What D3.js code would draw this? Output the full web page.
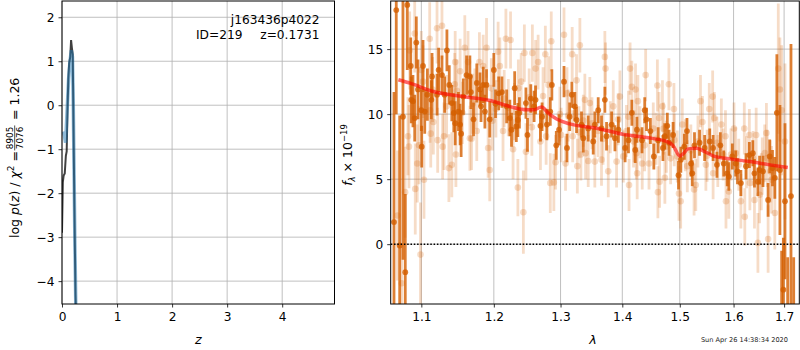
<!DOCTYPE html>
<html>
<head>
<meta charset="utf-8">
<script src="https://cdn.jsdelivr.net/npm/d3@7"></script>
<style>
  body { margin: 0; background: #fff; }
  text { font-family: "DejaVu Sans", sans-serif; }
</style>
</head>
<body>
<svg id="chart" width="800" height="350"></svg>
<script>
// ---- left panel: log p(z) curves
const zTicks = [0, 1, 2, 3, 4];
const pTicks = [-4, -3, -2, -1, 0, 1, 2];
const zChi = [0.0, 0.015, 0.03, 0.05, 0.07, 0.085, 0.1, 0.115, 0.13, 0.15, 0.165, 0.18, 0.195, 0.21, 0.225, 0.245, 0.26];
const logpChi = [-2.9, -1.75, -1.6, -1.55, -1.15, -1.05, -0.1, 0.6, 0.95, 1.1, 1.48, 1.3, 1.15, -0.6, -2.3, -4.3, -5.0];
const zPdf = [0.02, 0.045, 0.065, 0.09, 0.12, 0.145, 0.17, 0.19, 0.205, 0.22, 0.235, 0.25, 0.26];
const logpPdf = [-0.6, -0.7, -0.85, -0.2, 0.6, 1.0, 1.25, 1.1, 0.0, -1.6, -3.2, -4.5, -5.0];

// ---- right panel: 1D spectrum
const lamTicks = [1.1, 1.2, 1.3, 1.4, 1.5, 1.6, 1.7];
const fluxTicks = [0, 5, 10, 15];

// strong points (wave, flux, err)
const wavePt = [1.0645, 1.0674, 1.0718, 1.0760, 1.0790, 1.0816, 1.0861, 1.0868, 1.0890, 1.0913,
  1.0934, 1.0956, 1.1000, 1.1005, 1.1022, 1.1045, 1.1080, 1.1133, 1.1142, 1.1209,
  1.1231, 1.1276, 1.1312, 1.1343, 1.1375, 1.1410, 1.1437, 1.1456, 1.1501, 1.1524,
  1.1538, 1.1569, 1.1614, 1.1660, 1.1674, 1.1711, 1.1757, 1.1803, 1.1817, 1.1848,
  1.1872, 1.1895, 1.1941, 1.2000, 1.2024, 1.2070, 1.2117, 1.2186, 1.2233, 1.2257,
  1.2304, 1.2328, 1.2351, 1.2374, 1.2471, 1.2494, 1.2544, 1.2594, 1.2616, 1.2690,
  1.2715, 1.2789, 1.2841, 1.2865, 1.2934, 1.2977, 1.3054, 1.3101, 1.3143, 1.3178,
  1.3225, 1.3252, 1.3331, 1.3359, 1.3439, 1.3520, 1.3546, 1.3601, 1.3655, 1.3710,
  1.3738, 1.3822, 1.3877, 1.3934, 1.4047, 1.4104, 1.4161, 1.4219, 1.4248, 1.4335,
  1.4382, 1.4413, 1.4480, 1.4540, 1.4616, 1.4700, 1.4732, 1.4777, 1.4808, 1.4880,
  1.4977, 1.5019, 1.5082, 1.5130, 1.5204, 1.5226, 1.5267, 1.5360, 1.5454, 1.5549,
  1.5612, 1.5684, 1.5748, 1.5812, 1.5878, 1.5909, 1.5976, 1.6041, 1.6075, 1.6141,
  1.6240, 1.6306, 1.6374, 1.6406, 1.6474, 1.6507, 1.6575, 1.6677, 1.6709, 1.6765,
  1.6812, 1.6853, 1.6915, 1.6950, 1.6985, 1.7018, 1.7073, 1.7141, 1.7197];
const fluxPt = [1.7, 18.0, -0.1, 9.8, -2.15, 18.4, 13.7, 11.1, 11.0, 9.7,
  15.5, 11.9, 10.3, 7.5, 13.7, 10.2, 11.5, 11.1, 12.9, 11.5,
  13.4, 13.0, 11.5, 14.9, 12.25, 10.85, 10.1, 9.3, 10.2, 9.2,
  8.5, 11.35, 13.0, 12.9, 11.7, 9.6, 12.4, 11.9, 10.6, 12.25,
  10.2, 12.25, 9.6, 13.4, 10.8, 11.6, 11.7, 10.6, 9.7, 8.8,
  12.0, 9.05, 9.55, 10.1, 10.85, 8.4, 11.2, 10.6, 11.1, 9.1,
  9.8, 9.2, 10.2, 12.25, 7.6, 8.8, 12.5, 7.4, 9.8, 11.5,
  10.6, 9.55, 9.2, 8.15, 8.9, 7.9, 9.2, 10.3, 8.9, 11.1,
  8.3, 9.2, 8.15, 8.8, 7.4, 8.0, 10.1, 7.25, 8.8, 8.0,
  10.3, 9.6, 8.7, 6.75, 8.0, 7.4, 8.3, 9.1, 7.8, 8.4,
  5.3, 6.5, 7.5, 8.7, 6.2, 5.45, 7.6, 7.8, 7.4, 7.9,
  7.4, 6.1, 7.6, 6.2, 5.45, 5.2, 6.75, 6.2, 5.6, 4.7,
  6.0, 6.85, 7.0, 5.45, 4.8, 5.7, 5.6, 3.4, 6.75, 5.85,
  5.1, 10.1, 5.7, -5.0, -3.5, 3.3, -6.0, 3.7, -5.5];
const errPt = [10, 8, 10, 11, 6, 5, 2.2, 1.8, 2.0, 1.8,
  2.0, 2.3, 1.6, 1.6, 2.0, 1.7, 2.0, 1.5, 1.8, 1.6,
  1.7, 1.5, 1.4, 1.6, 1.5, 1.4, 1.5, 1.7, 1.5, 1.6,
  1.8, 1.4, 1.5, 1.6, 1.3, 1.3, 1.5, 1.3, 1.2, 1.4,
  1.3, 1.2, 1.4, 1.3, 1.1, 1.3, 1.2, 1.3, 1.4, 1.3,
  1.3, 1.2, 1.3, 1.2, 1.2, 1.3, 1.1, 1.2, 1.1, 1.2,
  1.1, 1.2, 1.1, 1.2, 1.1, 1.2, 1.2, 1.1, 1.1, 1.0,
  1.1, 1.0, 1.0, 1.1, 1.0, 1.0, 1.0, 1.0, 1.0, 1.0,
  1.1, 1.0, 1.0, 1.0, 1.1, 1.0, 1.0, 1.0, 1.0, 1.0,
  1.0, 0.9, 1.0, 1.0, 1.0, 1.0, 1.0, 1.0, 1.0, 1.0,
  1.1, 1.0, 1.0, 1.0, 1.0, 1.0, 1.0, 1.0, 1.0, 1.0,
  1.0, 1.0, 1.0, 1.0, 1.0, 1.1, 1.0, 1.0, 1.0, 1.0,
  1.0, 1.0, 1.0, 1.1, 1.1, 1.1, 1.2, 1.3, 1.3, 1.4,
  1.6, 4.5, 5, 4.5, 4, 6, 5, 11.7, 4.5];

// faint points (wave, flux, err)
const waveBg = [1.0690, 1.0744, 1.0788, 1.0825, 1.0838, 1.0847, 1.0913, 1.0920, 1.0946, 1.0969,
  1.0989, 1.1000, 1.1022, 1.1035, 1.1111, 1.1116, 1.1125, 1.1160, 1.1209, 1.1218,
  1.1276, 1.1285, 1.1303, 1.1339, 1.1370, 1.1410, 1.1456, 1.1466, 1.1480, 1.1524,
  1.1555, 1.1589, 1.1634, 1.1660, 1.1683, 1.1730, 1.1757, 1.1794, 1.1848, 1.1895,
  1.1918, 1.1941, 1.1964, 1.2030, 1.2062, 1.2087, 1.2133, 1.2175, 1.2210, 1.2243,
  1.2280, 1.2351, 1.2358, 1.2400, 1.2433, 1.2448, 1.2471, 1.2520, 1.2568, 1.2617,
  1.2655, 1.2690, 1.2765, 1.2777, 1.2814, 1.2841, 1.2856, 1.2896, 1.2922, 1.2990,
  1.3054, 1.3078, 1.3101, 1.3183, 1.3191, 1.3252, 1.3265, 1.3305, 1.3321, 1.3360,
  1.3385, 1.3397, 1.3439, 1.3465, 1.3546, 1.3600, 1.3655, 1.3710, 1.3721, 1.3766,
  1.3849, 1.3904, 1.3930, 1.3960, 1.4017, 1.4104, 1.4114, 1.4131, 1.4161, 1.4190,
  1.4224, 1.4238, 1.4252, 1.4264, 1.4300, 1.4339, 1.4398, 1.4456, 1.4530, 1.4602,
  1.4611, 1.4632, 1.4641, 1.4691, 1.4710, 1.4734, 1.4805, 1.4836, 1.4895, 1.4955,
  1.4985, 1.5016, 1.5045, 1.5136, 1.5200, 1.5259, 1.5291, 1.5377, 1.5413, 1.5477,
  1.5540, 1.5603, 1.5612, 1.5635, 1.5684, 1.5767, 1.5800, 1.5845, 1.5855, 1.5909,
  1.6008, 1.6041, 1.6141, 1.6207, 1.6217, 1.6250, 1.6306, 1.6316, 1.6406, 1.6440,
  1.6474, 1.6507, 1.6541, 1.6609, 1.6643, 1.6660, 1.6677, 1.6746, 1.6812, 1.6882,
  1.6915, 1.6950, 1.7018,
  1.1150, 1.1450, 1.1700, 1.1980, 1.2150, 1.2300, 1.2560, 1.2730, 1.3010, 1.3120,
  1.3290, 1.3500, 1.3680, 1.3800, 1.4070, 1.4200, 1.4380, 1.4580, 1.4760, 1.4900,
  1.5100, 1.5330, 1.5500, 1.5700, 1.5950, 1.6100, 1.6380, 1.6560, 1.6720];
const fluxBg = [2.2, -3.0, 4.0, 8.3, 7.5, 14.9, 16.2, 4.25, 6.2, 7.6,
  -0.8, 13.4, 12.5, 4.95, 15.8, 10.3, 8.5, 9.4, 16.6, 8.0,
  16.8, 7.5, 8.3, 10.6, 5.85, 6.1, 14.0, 6.9, 11.8, 13.3,
  10.1, 15.1, 14.0, 8.15, 8.1, 11.2, 8.7, 14.0, 13.7, 15.1,
  7.4, 5.7, 12.0, 10.4, 14.8, 13.7, 8.7, 15.8, 10.5, 15.7,
  7.3, 4.35, 12.0, 12.5, 2.46, 14.7, 7.1, 11.3, 14.7, 13.5,
  14.0, 7.9, 14.6, 8.3, 12.25, 4.7, 15.6, 4.75, 6.3, 10.0,
  16.1, 6.2, 11.6, 14.6, 8.3, 12.6, 6.0, 15.3, 6.9, 9.5,
  11.1, 7.0, 6.4, 10.85, 6.35, 8.7, 6.5, 14.4, 13.5, 5.6,
  10.6, 6.35, 9.6, 11.35, 6.75, 9.8, 4.55, 13.5, 12.1, 7.9,
  11.9, 7.0, 5.45, 11.0, 8.6, 6.2, 13.0, 6.2, 8.9, 12.2,
  4.0, 9.7, 4.8, 10.6, 8.9, 5.1, 12.3, 6.6, 10.4, 6.75,
  3.9, 3.3, 9.2, 6.0, 7.2, 4.2, 4.55, 11.0, 9.4, 6.1,
  10.4, 11.35, 5.45, 9.7, 7.8, 9.2, 6.9, 8.3, 3.3, 4.05,
  8.9, 7.0, 3.3, 8.9, 2.1, 6.3, 8.4, 4.7, 3.4, 8.4,
  0.1, 3.8, 4.8, 7.0, 8.55, 6.6, 0.4, 4.95, 2.4, 13.5,
  11.9, 10.3, 7.9,
  11.9, 12.3, 10.8, 9.5, 11.2, 10.2, 9.0, 11.4, 8.4, 9.9,
  8.6, 9.3, 8.1, 9.0, 8.7, 8.3, 7.6, 8.1, 7.5, 8.0,
  7.6, 7.9, 6.8, 6.4, 6.9, 6.1, 6.6, 6.0, 5.6];
const errBg = [5, 3, 3.5, 3, 3.2, 3, 3, 3.5, 3, 3,
  4, 3, 2.8, 3, 2.8, 2.5, 2.6, 2.5, 2.7, 2.5,
  2.6, 2.5, 2.6, 2.4, 2.6, 2.5, 2.4, 2.5, 2.4, 2.5,
  2.4, 2.5, 2.4, 2.5, 2.4, 2.3, 2.3, 2.3, 2.4, 2.3,
  2.3, 2.4, 2.3, 2.2, 2.3, 2.2, 2.3, 2.3, 2.2, 2.2,
  2.3, 2.2, 2.2, 2.2, 3.2, 2.2, 2.2, 2.2, 2.2, 2.2,
  2.1, 2.2, 2.2, 2.2, 2.2, 2.3, 2.3, 2.2, 2.1, 2.1,
  2.1, 2.1, 2.0, 2.1, 2.0, 2.0, 2.1, 2.1, 2.0, 2.0,
  2.0, 2.0, 2.0, 2.0, 2.0, 2.0, 2.0, 2.0, 2.0, 2.0,
  2.0, 2.0, 2.0, 2.0, 2.0, 2.0, 2.0, 2.0, 2.0, 2.0,
  2.0, 2.0, 2.0, 2.0, 2.0, 2.0, 2.0, 2.0, 2.0, 2.0,
  2.0, 2.0, 2.0, 2.0, 2.0, 2.0, 2.0, 2.0, 2.0, 2.0,
  2.1, 2.1, 2.0, 2.0, 2.0, 2.0, 2.0, 2.0, 2.0, 2.0,
  2.0, 2.0, 2.0, 2.0, 2.0, 2.0, 2.0, 2.0, 2.1, 2.1,
  2.0, 2.0, 2.1, 2.0, 2.2, 2.0, 2.0, 2.1, 2.2, 2.1,
  2.3, 2.2, 2.2, 2.2, 2.3, 2.2, 2.6, 2.6, 2.8, 5,
  4, 5, 6,
  2.5, 2.4, 2.3, 2.3, 2.2, 2.2, 2.2, 2.2, 2.1, 2.0,
  2.0, 2.0, 2.0, 2.0, 2.0, 2.0, 2.0, 2.0, 2.0, 2.0,
  2.0, 2.0, 2.0, 2.0, 2.0, 2.0, 2.1, 2.2, 2.4];

// best-fit model
const modelWave = [1.0701, 1.0852, 1.1160, 1.1568, 1.2000, 1.2233, 1.2489, 1.2581, 1.2708, 1.2810,
  1.2940, 1.3145, 1.3572, 1.4006, 1.4413, 1.4763, 1.4880, 1.5001, 1.5060, 1.5150,
  1.5303, 1.5425, 1.5612, 1.5927, 1.6316, 1.6711, 1.7076];
const modelFlux = [12.64, 12.38, 11.74, 11.35, 10.97, 10.58, 10.33, 10.33, 10.54, 10.08,
  9.62, 9.25, 8.92, 8.46, 8.2, 7.9, 7.58, 6.79, 6.95, 7.33,
  7.38, 7.18, 6.79, 6.56, 6.35, 6.1, 5.89];

const svg = d3.select('#chart');
svg.append('rect').attr('width', 800).attr('height', 350).attr('fill', '#fff');

const gridColor = '#b0b0b0';
const fontSize = 12.2;

const styleAxis = (g) => {
  g.select('.domain').remove();
  g.attr('font-size', fontSize).attr('font-family', '"DejaVu Sans", sans-serif');
  g.selectAll('.tick line').attr('stroke', '#000').attr('stroke-width', 0.8);
  g.selectAll('.tick text').attr('fill', '#000');
};

//* LEFT PANEL
const L = { x0: 62, x1: 334.5, y0: 1, y1: 304 };
const zx = d3.scaleLinear().domain([0, 4.95]).range([L.x0, L.x1]);
const zy = d3.scaleLinear().domain([-4.52, 2.37]).range([L.y1, L.y0]);

svg.append('clipPath').attr('id', 'clipL').append('rect')
  .attr('x', L.x0).attr('y', L.y0).attr('width', L.x1 - L.x0).attr('height', L.y1 - L.y0);

const left = svg.append('g');
left.selectAll('.gx').data(zTicks).enter().append('line')
  .attr('x1', (d) => zx(d)).attr('x2', (d) => zx(d))
  .attr('y1', L.y0).attr('y2', L.y1)
  .attr('stroke', gridColor).attr('stroke-width', 0.8);
left.selectAll('.gy').data(pTicks).enter().append('line')
  .attr('x1', L.x0).attr('x2', L.x1)
  .attr('y1', (d) => zy(d)).attr('y2', (d) => zy(d))
  .attr('stroke', gridColor).attr('stroke-width', 0.8);

const curves = left.append('g').attr('clip-path', 'url(#clipL)');
curves.append('path')
  .datum(zChi.map((z, i) => [z, logpChi[i]]))
  .attr('d', d3.line().x((d) => zx(d[0])).y((d) => zy(d[1])))
  .attr('fill', 'none').attr('stroke', '#000').attr('stroke-opacity', 0.75).attr('stroke-width', 2);
curves.append('path')
  .datum(zPdf.map((z, i) => [z, logpPdf[i]]))
  .attr('d', d3.line().x((d) => zx(d[0])).y((d) => zy(d[1])))
  .attr('fill', 'none').attr('stroke', '#1f77b4').attr('stroke-opacity', 0.5).attr('stroke-width', 3.5);

left.append('g').attr('transform', `translate(0,${L.y1})`)
  .call(d3.axisBottom(zx).tickValues(zTicks).tickFormat(d3.format('d')).tickSize(3.5).tickPadding(4.5))
  .call(styleAxis);
left.append('g').attr('transform', `translate(${L.x0},0)`)
  .call(d3.axisLeft(zy).tickValues(pTicks).tickFormat(d3.format('d')).tickSize(3.5).tickPadding(4))
  .call(styleAxis);

left.append('rect')
  .attr('x', L.x0).attr('y', L.y0).attr('width', L.x1 - L.x0).attr('height', L.y1 - L.y0)
  .attr('fill', 'none').attr('stroke', '#000').attr('stroke-width', 1);

// annotation
left.append('text').attr('x', 319.5).attr('y', 24).attr('text-anchor', 'end')
  .attr('font-size', fontSize).text('j163436p4022');
left.append('text').attr('x', 196).attr('y', 39).attr('font-size', fontSize).text('ID=219');
left.append('text').attr('x', 319.5).attr('y', 39).attr('text-anchor', 'end')
  .attr('font-size', fontSize).text('z=0.1731');

// x label
left.append('text').attr('x', (L.x0 + L.x1) / 2).attr('y', 344).attr('text-anchor', 'middle')
  .attr('font-size', fontSize + 0.5).attr('font-style', 'italic').text('z');

// y label with the chi2 fraction
const ylab = svg.append('g').attr('transform', 'translate(19,238) rotate(-90)');
const t1 = ylab.append('text').attr('font-size', 12.5);
t1.append('tspan').text('log ');
t1.append('tspan').attr('font-style', 'italic').text('p');
t1.append('tspan').text('(');
t1.append('tspan').attr('font-style', 'italic').text('z');
t1.append('tspan').text(') / ');
t1.append('tspan').attr('font-style', 'italic').text('χ');
t1.append('tspan').attr('font-size', 9).attr('dy', -5).text('2');
t1.append('tspan').attr('dy', 5).text(' = ');
const w1 = t1.node().getComputedTextLength();
const fc = w1 + 13;
ylab.append('text').attr('x', fc).attr('y', -6).attr('text-anchor', 'middle')
  .attr('font-size', 8.8).text('8905');
ylab.append('line').attr('x1', fc - 12.5).attr('x2', fc + 12.5).attr('y1', -4.3).attr('y2', -4.3)
  .attr('stroke', '#000').attr('stroke-width', 0.7);
ylab.append('text').attr('x', fc).attr('y', 3.5).attr('text-anchor', 'middle')
  .attr('font-size', 8.8).text('7076');
ylab.append('text').attr('x', fc + 14).attr('font-size', 12.5).text(' = 1.26')
  .style('white-space', 'pre');

//* RIGHT PANEL
const R = { x0: 390.7, x1: 799.3, y0: 1, y1: 304 };
const wx = d3.scaleLog().domain([1.0603, 1.7313]).range([R.x0, R.x1]);
const fy = d3.scaleLinear().domain([-4.6, 18.7]).range([R.y1, R.y0]);

svg.append('clipPath').attr('id', 'clipR').append('rect')
  .attr('x', R.x0).attr('y', R.y0).attr('width', R.x1 - R.x0).attr('height', R.y1 - R.y0);

const right = svg.append('g');
right.selectAll('.gx').data(lamTicks).enter().append('line')
  .attr('x1', (d) => wx(d)).attr('x2', (d) => wx(d))
  .attr('y1', R.y0).attr('y2', R.y1)
  .attr('stroke', gridColor).attr('stroke-width', 0.8);
right.selectAll('.gy').data(fluxTicks).enter().append('line')
  .attr('x1', R.x0).attr('x2', R.x1)
  .attr('y1', (d) => fy(d)).attr('y2', (d) => fy(d))
  .attr('stroke', gridColor).attr('stroke-width', 0.8);

const plot = right.append('g').attr('clip-path', 'url(#clipR)');
const orange = '#d45f00';

const drawErrorbars = (waves, fluxes, errs, opacity, radius) => {
  const pts = waves.map((w, i) => ({ w: w, f: fluxes[i], e: errs[i] }));
  const g = plot.append('g');
  g.selectAll('line').data(pts).enter().append('line')
    .attr('x1', (d) => wx(d.w)).attr('x2', (d) => wx(d.w))
    .attr('y1', (d) => fy(d.f - d.e)).attr('y2', (d) => fy(d.f + d.e))
    .attr('stroke', orange).attr('stroke-width', 2.8).attr('stroke-opacity', opacity);
  g.selectAll('circle').data(pts).enter().append('circle')
    .attr('cx', (d) => wx(d.w)).attr('cy', (d) => fy(d.f)).attr('r', radius)
    .attr('fill', orange).attr('fill-opacity', opacity);
};

drawErrorbars(waveBg, fluxBg, errBg, 0.22, 3.3);
drawErrorbars(wavePt, fluxPt, errPt, 0.8, 2.9);

// zero line
plot.append('line')
  .attr('x1', R.x0).attr('x2', R.x1).attr('y1', fy(0)).attr('y2', fy(0))
  .attr('stroke', '#000').attr('stroke-width', 1.5).attr('stroke-dasharray', '1.5,1.8');

// model
plot.append('path')
  .datum(modelWave.map((w, i) => [w, modelFlux[i]]))
  .attr('d', d3.line().x((d) => wx(d[0])).y((d) => fy(d[1])).curve(d3.curveMonotoneX))
  .attr('fill', 'none').attr('stroke', 'red').attr('stroke-opacity', 0.6).attr('stroke-width', 3.5);

right.append('g').attr('transform', `translate(0,${R.y1})`)
  .call(d3.axisBottom(wx).tickValues(lamTicks).tickFormat(d3.format('.1f')).tickSize(3.5).tickPadding(4.5))
  .call(styleAxis);
right.append('g').attr('transform', `translate(${R.x0},0)`)
  .call(d3.axisLeft(fy).tickValues(fluxTicks).tickFormat(d3.format('d')).tickSize(3.5).tickPadding(4))
  .call(styleAxis);

right.append('rect')
  .attr('x', R.x0).attr('y', R.y0).attr('width', R.x1 - R.x0).attr('height', R.y1 - R.y0)
  .attr('fill', 'none').attr('stroke', '#000').attr('stroke-width', 1);

right.append('text').attr('x', (R.x0 + R.x1) / 2 - 2).attr('y', 344).attr('text-anchor', 'middle')
  .attr('font-size', fontSize + 0.5).attr('font-style', 'italic').text('λ');

const flab = svg.append('g').attr('transform', 'translate(352,155) rotate(-90)')
  .append('text').attr('text-anchor', 'middle').attr('font-size', 12.5);
flab.append('tspan').attr('font-style', 'italic').text('f');
flab.append('tspan').attr('font-style', 'italic').attr('font-size', 8.5).attr('dy', 3).text('λ');
flab.append('tspan').attr('dy', -3).text(' × 10');
flab.append('tspan').attr('font-size', 8.5).attr('dy', -5).text('−19');

// timestamp
svg.append('text').attr('x', 788).attr('y', 342).attr('text-anchor', 'end')
  .attr('font-size', 6.6).attr('fill', '#222').text('Sun Apr 26 14:38:34 2020');
</script>
</body>
</html>
